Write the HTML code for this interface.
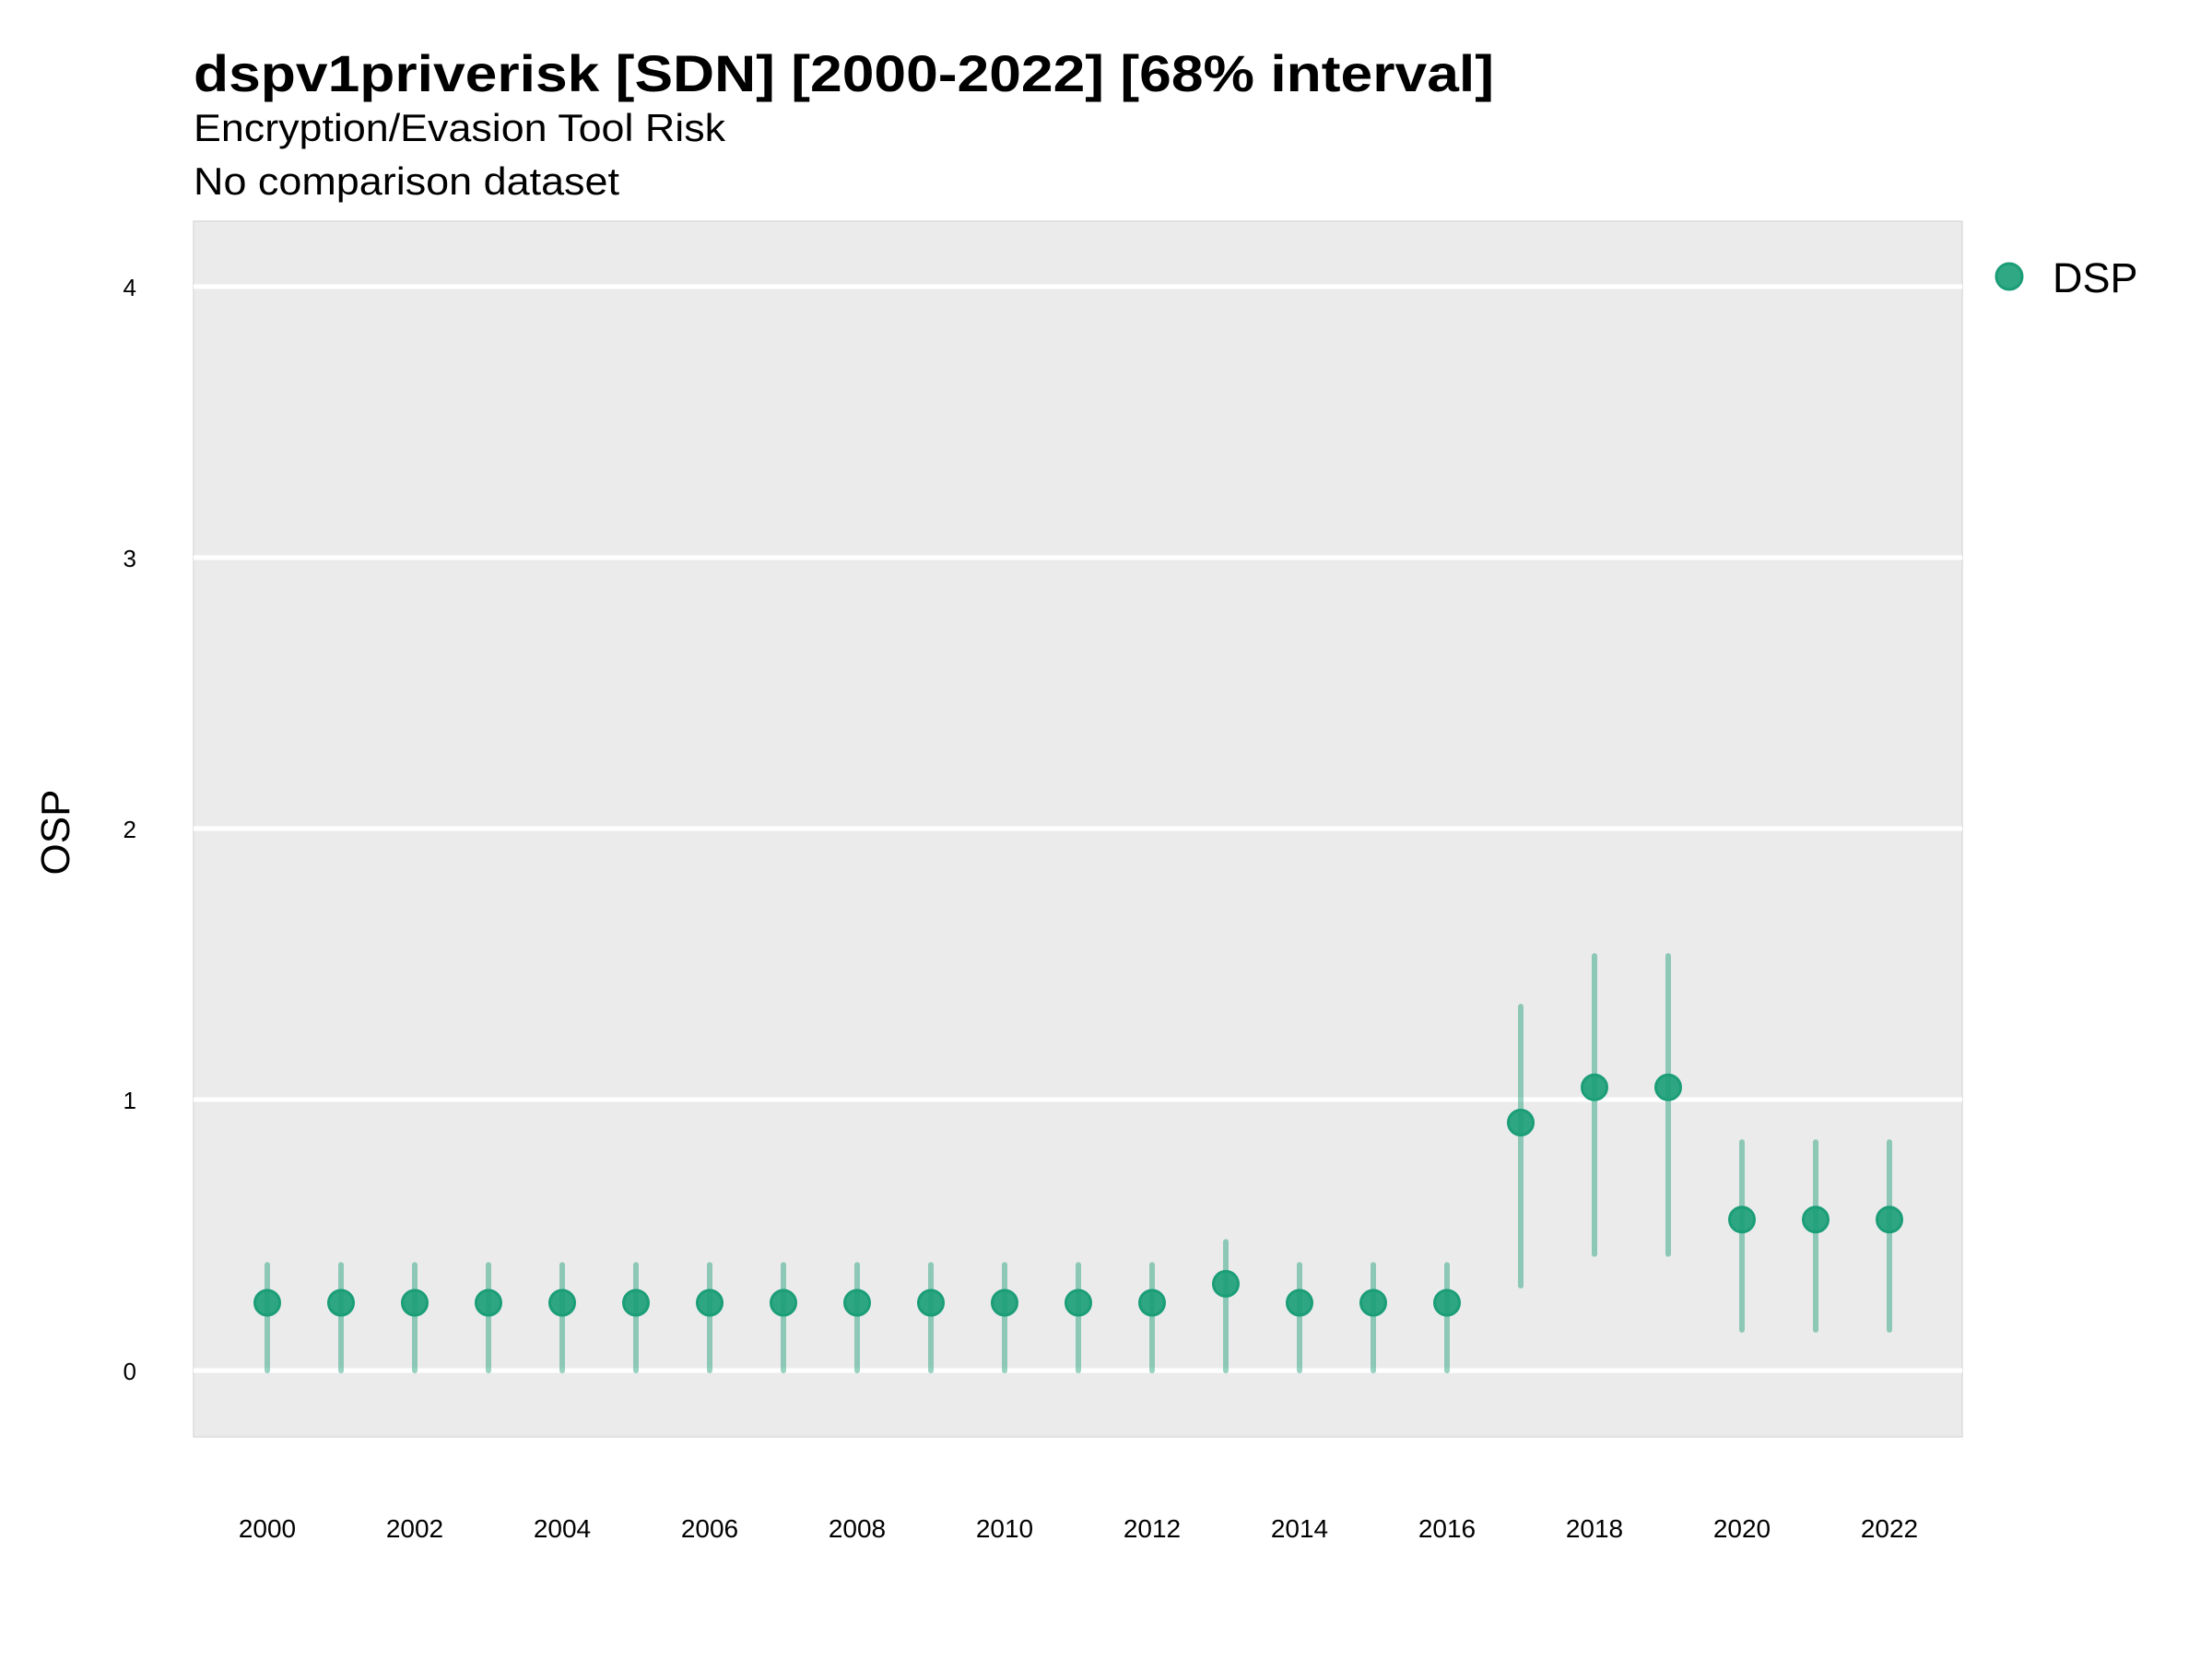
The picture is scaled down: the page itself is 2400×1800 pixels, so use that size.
<!DOCTYPE html>
<html><head><meta charset="utf-8"><style>
body{margin:0;background:#fff;}
svg{display:block;font-family:"Liberation Sans",Arial,sans-serif;}
</style></head><body>
<svg id="chart" width="2400" height="1800" viewBox="0 0 2400 1800" xmlns="http://www.w3.org/2000/svg">
<rect width="2400" height="1800" fill="#fff"/>
<text x="210" y="99" font-size="56" font-weight="bold" textLength="1411" lengthAdjust="spacingAndGlyphs">dspv1priverisk [SDN] [2000-2022] [68% interval]</text>
<text x="210" y="153" font-size="42" textLength="577" lengthAdjust="spacingAndGlyphs">Encryption/Evasion Tool Risk</text>
<text x="210" y="211" font-size="42" textLength="462" lengthAdjust="spacingAndGlyphs">No comparison dataset</text>
<rect x="210" y="240" width="1919" height="1319" fill="#EBEBEB" stroke="#dcdcdc" stroke-width="1.5"/>
<g id="grid"></g>
<g id="yticks"></g>
<g id="xticks"></g>
<g id="marks"></g>
<text transform="translate(75,903) rotate(-90)" text-anchor="middle" font-size="44">OSP</text>
<circle cx="2180" cy="300" r="14" fill="#1b9e77" fill-opacity="0.9" stroke="#1b9e77" stroke-width="3"/>
<text x="2227" y="317" font-size="45">DSP</text>
</svg>
<script>
const years=[2000,2001,2002,2003,2004,2005,2006,2007,2008,2009,2010,2011,2012,2013,2014,2015,2016,2017,2018,2019,2020,2021,2022];
const estimates=[0.25,0.25,0.25,0.25,0.25,0.25,0.25,0.25,0.25,0.25,0.25,0.25,0.25,0.32,0.25,0.25,0.25,0.915,1.045,1.045,0.557,0.557,0.557];
const lower=[0,0,0,0,0,0,0,0,0,0,0,0,0,0,0,0,0,0.313,0.43,0.43,0.15,0.15,0.15];
const upper=[0.39,0.39,0.39,0.39,0.39,0.39,0.39,0.39,0.39,0.39,0.39,0.39,0.39,0.475,0.39,0.39,0.39,1.343,1.53,1.53,0.843,0.843,0.843];
const yTicks=[0,1,2,3,4];
const xTickLabels=[2000,2002,2004,2006,2008,2010,2012,2014,2016,2018,2020,2022];
const NS="http://www.w3.org/2000/svg";
const xS=v=>290+(v-2000)*80;
const yS=v=>1487-v*294;
function mk(t,a,p){const e=document.createElementNS(NS,t);for(const k in a)e.setAttribute(k,a[k]);p.appendChild(e);return e;}
const grid=document.getElementById('grid'),yt=document.getElementById('yticks'),xt=document.getElementById('xticks'),marks=document.getElementById('marks');
yTicks.forEach(v=>{
 const l=mk('line',{x1:210,x2:2129,y1:yS(v),y2:yS(v),stroke:'#fff','stroke-width':5},grid);
 
 
 const t=mk('text',{x:148,y:yS(v)+10,'text-anchor':'end','font-size':26},yt);
 t.textContent=v;
 
 
});
xTickLabels.forEach(v=>{
 const t=mk('text',{x:xS(v),y:1668,'text-anchor':'middle','font-size':28},xt);
 t.textContent=v;
 
 
});
years.forEach((yr,i)=>{
 const l=mk('line',{x1:xS(yr),x2:xS(yr),y1:yS(lower[i]),y2:yS(upper[i]),stroke:'#1b9e77','stroke-opacity':0.45,'stroke-width':6,'stroke-linecap':'round'},marks);
 
 
 const c=mk('circle',{cx:xS(yr),cy:yS(estimates[i]),r:13.5,fill:'#1b9e77','fill-opacity':0.9,stroke:'#1b9e77','stroke-width':3},marks);
 
 
});
</script>
</body></html>
